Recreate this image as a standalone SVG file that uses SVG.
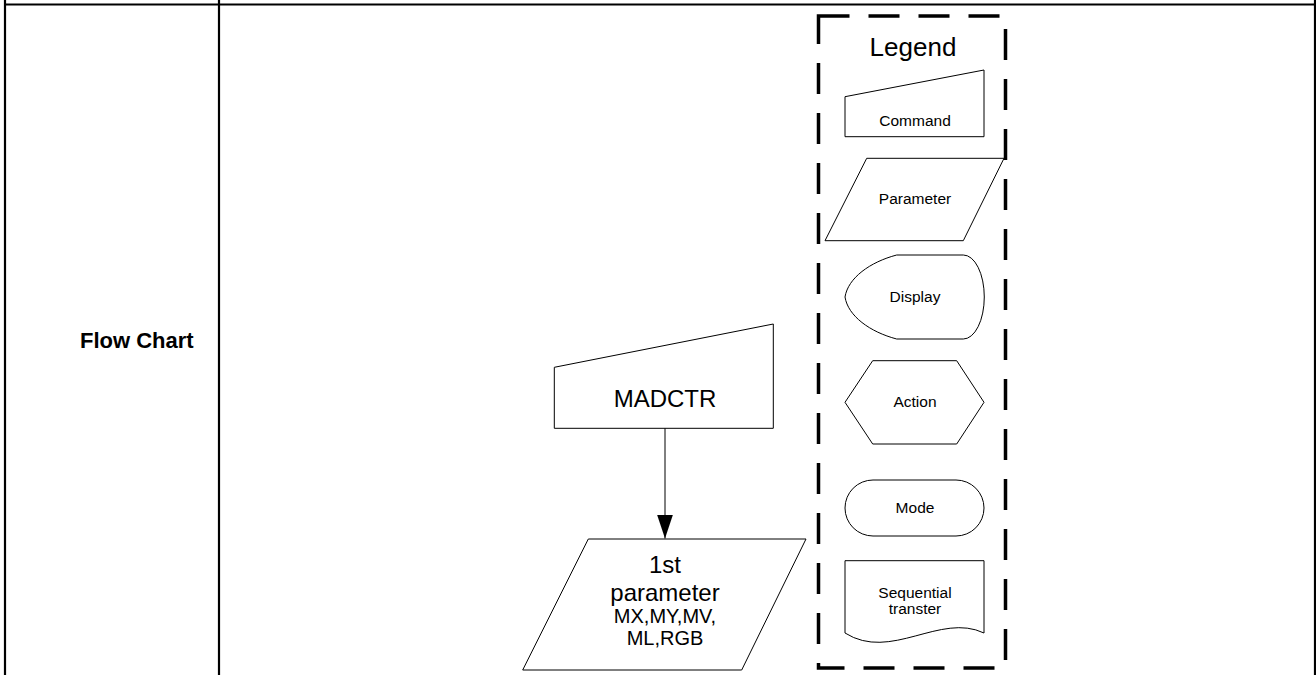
<svg xmlns="http://www.w3.org/2000/svg" width="1316" height="675" viewBox="0 0 1316 675">
<style>
.tbl{stroke:#000;stroke-width:2.2;fill:none}
.shp{fill:#fff;stroke:#000;stroke-width:1}
.t{font-family:"Liberation Sans",Arial,sans-serif;fill:#000;text-anchor:middle}
.s15{font-size:15.5px}
.s24{font-size:24px}
.s20{font-size:20px}
.leg{fill:none;stroke:#000;stroke-width:3.5;stroke-dasharray:31 19}
</style>
<defs>
<marker id="arr" markerUnits="userSpaceOnUse" markerWidth="24" markerHeight="16" refX="24" refY="8" orient="auto" viewBox="0 0 24 16">
<path d="M0,0 L24,8 L0,16 Z" fill="#000"/>
</marker>
</defs>
<rect width="1316" height="675" fill="#fff"/>
<g id="table">
<line class="tbl" x1="4" y1="4.5" x2="1316" y2="4.5"/>
<line class="tbl" x1="5" y1="0" x2="5" y2="675"/>
<line class="tbl" x1="219" y1="0" x2="219" y2="675"/>
<line class="tbl" x1="1315" y1="0" x2="1315" y2="675"/>
<text class="t" x="80" y="348" style="text-anchor:start;font-size:22px;font-weight:bold">Flow Chart</text>
</g>
<g id="legend">
<rect class="leg" x="818.5" y="16" width="187" height="652"/>
<text class="t" x="913" y="56" style="font-size:26px">Legend</text>
</g>
<g id="legend-command">
<polygon class="shp" points="845,96.7 984,70 984,136.7 845,136.7"/>
<text class="t s15" x="915" y="126">Command</text>
</g>
<g id="legend-parameter">
<polygon class="shp" points="866.7,158.3 1004,158.3 963.3,240.7 825,240.7"/>
<text class="t s15" x="915" y="204">Parameter</text>
</g>
<g id="legend-display">
<path class="shp" d="M896.7,255 H963.3 A21,42 0 0 1 963.3,339 H896.7 C870,332 848,316 845,297 C848,278 870,262 896.7,255 Z"/>
<text class="t s15" x="915" y="302">Display</text>
</g>
<g id="legend-action">
<polygon class="shp" points="872.7,360.7 956.7,360.7 984,402.3 956.7,444 872.7,444 845,402.3"/>
<text class="t s15" x="915" y="407">Action</text>
</g>
<g id="legend-mode">
<rect class="shp" x="845" y="480" width="139" height="56" rx="28" ry="28"/>
<text class="t s15" x="915" y="513">Mode</text>
</g>
<g id="legend-sequential">
<path class="shp" d="M845,560.7 H984 V633 C940,612 891,662 845,633 Z"/>
<text class="t s15" x="915" y="598">Sequential</text>
<text class="t s15" x="915" y="614">transter</text>
</g>
<g id="madctr">
<polygon class="shp" points="554.3,367.3 773.3,324 773.3,428.3 554.3,428.3"/>
<text class="t s24" x="665" y="407">MADCTR</text>
</g>
<g id="first-parameter">
<polygon class="shp" points="588.3,539 806,539 741.7,670 522.7,670"/>
<text class="t s24" x="665" y="573">1st</text>
<text class="t s24" x="665" y="601">parameter</text>
<text class="t s20" x="665" y="623">MX,MY,MV,</text>
<text class="t s20" x="665" y="645">ML,RGB</text>
</g>
<g id="connectors">
<line x1="665" y1="428.3" x2="665" y2="538.5" stroke="#000" stroke-width="1" marker-end="url(#arr)"/>
</g>
</svg>
